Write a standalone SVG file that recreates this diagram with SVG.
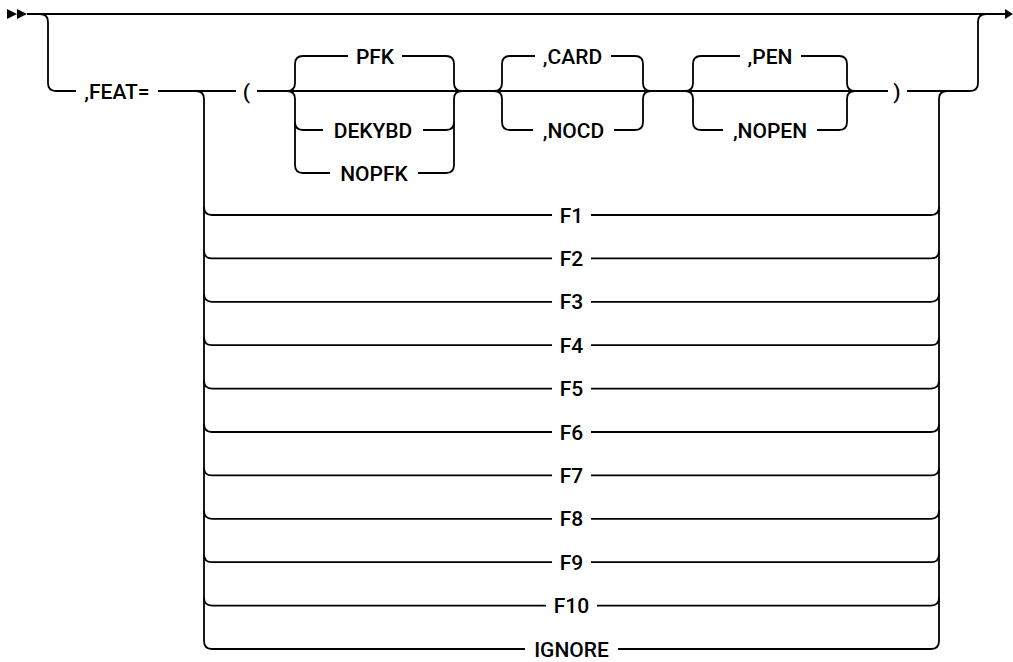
<svg xmlns="http://www.w3.org/2000/svg" width="1013" height="662" viewBox="0 0 1013 662">
<style>
.c{fill:none;stroke:#000;stroke-width:1.8}
.t{font-family:Roboto,"Liberation Sans",sans-serif;font-weight:500;font-size:21px;fill:#000;text-anchor:middle}
.a{fill:#000}
</style>
<rect width="1013" height="662" fill="#fff"/>
<g id="connectors">
<path class="a" d="M7 9 L17 14 L7 19 Z M17 9 L27 14 L17 19 Z"/>
<path class="a" d="M1005 9 L1013 14 L1005 19 Z"/>
<path class="c" d="M27 14 H1006"/>
<path class="c" d="M40 14 Q48 14 48 22 V83 Q48 91 56 91 H76"/>
<path class="c" d="M158 91 H236"/>
<path class="c" d="M257 91 H888"/>
<path class="c" d="M907 91 H970 Q978 91 978 83 V22 Q978 14 986 14"/>
<path class="c" d="M196 91 Q204 91 204 99 V641 Q204 649 212 649"/>
<path class="c" d="M947 91 Q939 91 939 99 V641 Q939 649 931 649"/>
<path class="c" d="M287 91 Q295 91 295 83 V64 Q295 56 303 56 H348 M402 56 H446 Q454 56 454 64 V83 Q454 91 462 91"/>
<path class="c" d="M287 91 Q295 91 295 99 V165 Q295 173 303 173 H330 M418 173 H446 Q454 173 454 165 V99 Q454 91 462 91"/>
<path class="c" d="M295 122 Q295 130 303 130 H323 M423 130 H446 Q454 130 454 122"/>
<path class="c" d="M494 91 Q502 91 502 83 V64 Q502 56 510 56 H535 M611 56 H635 Q643 56 643 64 V83 Q643 91 651 91"/>
<path class="c" d="M494 91 Q502 91 502 99 V122 Q502 130 510 130 H533 M614 130 H635 Q643 130 643 122 V99 Q643 91 651 91"/>
<path class="c" d="M685 91 Q693 91 693 83 V64 Q693 56 701 56 H740 M801 56 H839 Q847 56 847 64 V83 Q847 91 855 91"/>
<path class="c" d="M685 91 Q693 91 693 99 V122 Q693 130 701 130 H723 M817 130 H839 Q847 130 847 122 V99 Q847 91 855 91"/>
<path class="c" d="M204 207 Q204 215 212 215 H552 M591 215 H931 Q939 215 939 207"/>
<path class="c" d="M204 250.4 Q204 258.4 212 258.4 H552 M591 258.4 H931 Q939 258.4 939 250.4"/>
<path class="c" d="M204 293.8 Q204 301.8 212 301.8 H552 M591 301.8 H931 Q939 301.8 939 293.8"/>
<path class="c" d="M204 337.2 Q204 345.2 212 345.2 H552 M591 345.2 H931 Q939 345.2 939 337.2"/>
<path class="c" d="M204 380.6 Q204 388.6 212 388.6 H552 M591 388.6 H931 Q939 388.6 939 380.6"/>
<path class="c" d="M204 424 Q204 432 212 432 H552 M591 432 H931 Q939 432 939 424"/>
<path class="c" d="M204 467.4 Q204 475.4 212 475.4 H552 M591 475.4 H931 Q939 475.4 939 467.4"/>
<path class="c" d="M204 510.8 Q204 518.8 212 518.8 H552 M591 518.8 H931 Q939 518.8 939 510.8"/>
<path class="c" d="M204 554.2 Q204 562.2 212 562.2 H552 M591 562.2 H931 Q939 562.2 939 554.2"/>
<path class="c" d="M204 597.6 Q204 605.6 212 605.6 H546 M597 605.6 H931 Q939 605.6 939 597.6"/>
<path class="c" d="M212 649 H525 M618 649 H931"/>
</g>
<g id="feat"><text class="t" x="117" y="98.5">,FEAT=</text></g>
<g id="lparen"><text class="t" x="246.5" y="98.5">(</text></g>
<g id="pfk"><text class="t" x="375" y="63.5">PFK</text></g>
<g id="dekybd"><text class="t" x="373" y="137.5">DEKYBD</text></g>
<g id="nopfk"><text class="t" x="374" y="180.5">NOPFK</text></g>
<g id="card"><text class="t" x="572.5" y="63.5">,CARD</text></g>
<g id="nocd"><text class="t" x="573.5" y="137.5">,NOCD</text></g>
<g id="pen"><text class="t" x="770" y="63.5">,PEN</text></g>
<g id="nopen"><text class="t" x="770" y="137.5">,NOPEN</text></g>
<g id="rparen"><text class="t" x="897" y="98.5">)</text></g>
<g id="f1"><text class="t" x="571.5" y="222.5">F1</text></g>
<g id="f2"><text class="t" x="571.5" y="265.9">F2</text></g>
<g id="f3"><text class="t" x="571.5" y="309.3">F3</text></g>
<g id="f4"><text class="t" x="571.5" y="352.7">F4</text></g>
<g id="f5"><text class="t" x="571.5" y="396.1">F5</text></g>
<g id="f6"><text class="t" x="571.5" y="439.5">F6</text></g>
<g id="f7"><text class="t" x="571.5" y="482.9">F7</text></g>
<g id="f8"><text class="t" x="571.5" y="526.3">F8</text></g>
<g id="f9"><text class="t" x="571.5" y="569.7">F9</text></g>
<g id="f10"><text class="t" x="571.5" y="613.1">F10</text></g>
<g id="ignore"><text class="t" x="571.5" y="656.5">IGNORE</text></g>
</svg>
